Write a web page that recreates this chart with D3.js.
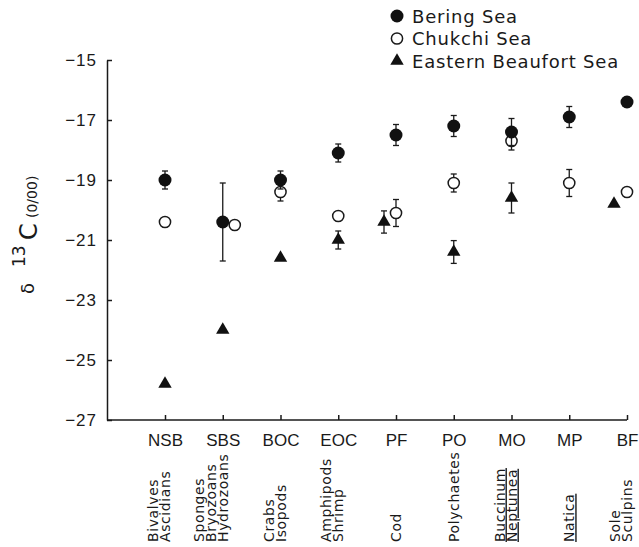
<!DOCTYPE html>
<html>
<head>
<meta charset="utf-8">
<script src="https://cdn.jsdelivr.net/npm/d3@7"></script>
<style>
  body { margin: 0; background: #fff; }
  svg { font-family: "DejaVu Sans", sans-serif; fill: #1a1a1a; }
  .axis path, .axis line { stroke: #1a1a1a; stroke-width: 1.5; }
  .axis text { fill: #1a1a1a; }
</style>
</head>
<body>
<svg id="chart" width="639" height="547"></svg>
<script>
// categories + values (delta 13C, per mil)
var cats = ["NSB", "SBS", "BOC", "EOC", "PF", "PO", "MO", "MP", "BF"];
var catNames = [["Bivalves", "Ascidians"], ["Sponges", "Bryozoans", "Hydrozoans"], ["Crabs", "Isopods"],
  ["Amphipods", "Shrimp"], ["Cod"], ["Polychaetes"], ["Buccinum", "Neptunea"], ["Natica"], ["Sole", "Sculpins"]];
var genera = ["Buccinum", "Neptunea", "Natica"];

var bering      = [-19.0, -20.4, -19.0, -18.1, -17.5, -17.2, -17.4, -16.9, -16.4];
var beringErr   = [0.3, 1.3, 0.3, 0.3, 0.35, 0.35, 0.45, 0.35, 0];
var chukchi     = [-20.4, -20.5, -19.4, -20.2, -20.1, -19.1, -17.7, -19.1, -19.4];
var chukchiErr  = [0, 0, 0.3, 0, 0.45, 0.3, 0.3, 0.45, 0];
var beaufort    = [-25.8, -24.0, -21.6, -21.0, -20.4, -21.4, -19.6, null, -19.8];
var beaufortErr = [0, 0, 0, 0.3, 0.37, 0.38, 0.5, null, 0];

var yTicks = [-15, -17, -19, -21, -23, -25, -27];

var svg = d3.select("#chart");

var x = d3.scalePoint().domain(cats).range([165, 627]);
var y = d3.scaleLinear().domain([-27, -15]).range([420, 60]);

// little side shifts where points would sit on top of each other
var nudge = { "SBS|chukchi": 12, "PF|beaufort": -12, "BF|beaufort": -13 };

//Axes
var yAxis = svg.append("g")
    .attr("class", "axis")
    .attr("transform", "translate(107,0)")
    .call(d3.axisLeft(y).tickValues(yTicks).tickSize(-5).tickSizeOuter(0).tickPadding(10));
yAxis.selectAll("text").style("font-size", "17px").style("letter-spacing", "1px");

var xAxis = svg.append("g")
    .attr("class", "axis")
    .attr("transform", "translate(0,420)")
    .call(d3.axisBottom(x).tickSize(-5).tickSizeOuter(0).tickPadding(14));
xAxis.select(".domain").remove();
xAxis.append("line")
    .attr("x1", 107).attr("x2", 627)
    .attr("stroke", "#1a1a1a").attr("stroke-width", 1.5);
xAxis.selectAll("text").style("font-size", "17px");

//Rotated group names under each code
cats.forEach(function(c, i) {
  var lines = catNames[i];
  lines.forEach(function(name, j) {
    var bx = x(c) + 5 - (lines.length - 1 - j) * 12;
    svg.append("text")
        .attr("transform", "translate(" + bx + ",542) rotate(-90)")
        .style("font-size", "14px")
        .style("letter-spacing", "0.6px")
        .style("text-decoration", genera.indexOf(name) >= 0 ? "underline" : null)
        .text(name);
  });
});

//Y label: delta 13C (0/00)
function ylab(tx, ty, size, str) {
  svg.append("text")
      .attr("transform", "translate(" + tx + "," + ty + ") rotate(-90)")
      .style("font-size", size + "px")
      .text(str);
}
ylab(34, 294, 18, "δ");
ylab(25, 267, 17, "13");
ylab(37, 240, 24, "C");
ylab(37, 218, 14, "(0/00)");

//Points + error bars
var triangle = d3.symbol().type(d3.symbolTriangle).size(78);

function drawSeries(key, vals, errs, marker) {
  var rows = cats.map(function(c, i) {
    return { cat: c, v: vals[i], e: errs[i], dx: nudge[c + "|" + key] || 0 };
  }).filter(function(d) { return d.v != null; });

  var g = svg.append("g").attr("class", key);

  var bars = g.selectAll(".err")
    .data(rows.filter(function(d) { return d.e > 0; }))
    .enter().append("g")
      .attr("class", "err")
      .attr("stroke", "#1a1a1a")
      .attr("stroke-width", 1.3);
  bars.append("line")
      .attr("x1", function(d) { return x(d.cat) + d.dx; })
      .attr("x2", function(d) { return x(d.cat) + d.dx; })
      .attr("y1", function(d) { return y(d.v + d.e); })
      .attr("y2", function(d) { return y(d.v - d.e); });
  [1, -1].forEach(function(s) {
    bars.append("line")
        .attr("x1", function(d) { return x(d.cat) + d.dx - 3; })
        .attr("x2", function(d) { return x(d.cat) + d.dx + 3; })
        .attr("y1", function(d) { return y(d.v + s * d.e); })
        .attr("y2", function(d) { return y(d.v + s * d.e); });
  });

  marker(g.selectAll(".pt").data(rows).enter(), function(d) { return x(d.cat) + d.dx; }, function(d) { return y(d.v); });
}

function filledDot(sel, fx, fy) {
  sel.append("circle").attr("class", "pt")
      .attr("cx", fx).attr("cy", fy).attr("r", 6.5)
      .attr("fill", "#111");
}
function openDot(sel, fx, fy) {
  sel.append("circle").attr("class", "pt")
      .attr("cx", fx).attr("cy", fy).attr("r", 5.6)
      .attr("fill", "#fff").attr("stroke", "#1a1a1a").attr("stroke-width", 1.5);
}
function triDot(sel, fx, fy) {
  sel.append("path").attr("class", "pt")
      .attr("d", triangle)
      .attr("transform", function(d) { return "translate(" + fx(d) + "," + fy(d) + ")"; })
      .attr("fill", "#111");
}

drawSeries("chukchi", chukchi, chukchiErr, openDot);
drawSeries("beaufort", beaufort, beaufortErr, triDot);
drawSeries("bering", bering, beringErr, filledDot);

//Legend
var legend = [
  { name: "Bering Sea", mk: filledDot },
  { name: "Chukchi Sea", mk: openDot },
  { name: "Eastern Beaufort Sea", mk: triDot }
];
var lg = svg.append("g").attr("class", "legend");
legend.forEach(function(l, i) {
  var ly = 16 + i * 22.5;
  l.mk(lg.append("g").datum(l), function() { return 397; }, function() { return ly; });
  lg.append("text")
      .attr("x", 412).attr("y", ly + 6.5)
      .style("font-size", "18px")
      .style("letter-spacing", "0.8px")
      .text(l.name);
});
</script>
</body>
</html>
